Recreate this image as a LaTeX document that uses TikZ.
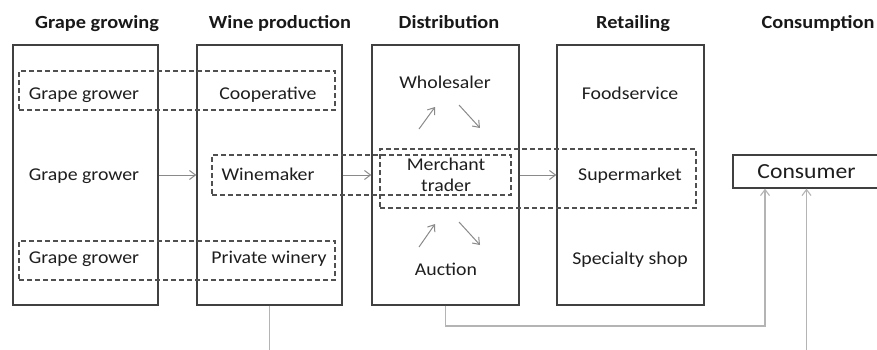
\documentclass[tikz,border=0pt]{standalone}
\usepackage{fontspec}
\setmainfont{Carlito}[FakeStretch=1.1]
\usetikzlibrary{arrows.meta}
\definecolor{boxc}{HTML}{404040}
\definecolor{dashc}{HTML}{505050}
\definecolor{txtc}{HTML}{1E1E1E}
\definecolor{arrc}{HTML}{8A8A8A}
\definecolor{feedc}{HTML}{B4B4B4}
\begin{document}
\begin{tikzpicture}[x=1pt,y=-1pt,
  colbox/.style={draw=boxc, line width=1.4pt, inner sep=0pt, minimum width=#1, minimum height=260pt},
  dbox/.style={draw=dashc, line width=1.2pt, dash pattern=on 5pt off 3pt, inner sep=0pt},
  lbl/.style={anchor=base, inner sep=0pt, text=txtc, font=\fontsize{18}{21}\selectfont},
  hdr/.style={anchor=base, inner sep=0pt, text=black!90, font=\bfseries\fontsize{18.5}{22}\selectfont},
  flow/.style={draw=arrc, line width=1pt, -{Straight Barb[length=6pt,width=9pt]}},
  feed/.style={draw=feedc, line width=1.1pt},
  feedtip/.style={feed, -{Straight Barb[length=6pt,width=9pt]}}]
\useasboundingbox (0,0) rectangle (877,349);
\fill[white] (0,0) rectangle (877,349);

% headers
\node[hdr] (h1) at (97,28) {Grape growing};
\node[hdr] (h2) at (280,28) {Wine production};
\node[hdr] (h3) at (449,28) {Distribution};
\node[hdr] (h4) at (633,28) {Retailing};
\node[hdr] (h5) at (818,28) {Consumption};

% column boxes
\node[colbox=145pt] (c1) at (85.5,175) {};
\node[colbox=145pt] (c2) at (269.5,175) {};
\node[colbox=147pt] (c3) at (445.5,175) {};
\node[colbox=147pt] (c4) at (630.5,175) {};

% dashed groupings
\node[dbox, minimum width=316pt, minimum height=39pt] (d1) at (177,90.5) {};
\node[dbox, minimum width=316pt, minimum height=39pt] (d3) at (177,260.5) {};
\node[dbox, minimum width=299pt, minimum height=40pt] (da) at (361.5,175) {};
\node[dbox, minimum width=316pt, minimum height=59pt] (db) at (538,178.5) {};

% labels
\node[lbl] (g1) at (84,99) {Grape grower};
\node[lbl] (coop) at (268,99) {Cooperative};
\node[lbl] (g2) at (84,180) {Grape grower};
\node[lbl] (wm) at (268,180) {Winemaker};
\node[lbl] (g3) at (84,263) {Grape grower};
\node[lbl] (pw) at (269,263) {Private winery};
\node[lbl] (ws) at (445,88) {Wholesaler};
\node[inner sep=0pt, text=txtc, align=center, font=\fontsize{18}{21}\selectfont] (mt) at (446,175) {Merchant\\trader};
\node[lbl] (au) at (446,275) {Auction};
\node[lbl] (fs) at (630,99) {Foodservice};
\node[lbl] (sm) at (630,180) {Supermarket};
\node[lbl] (ss) at (630,264) {Specialty shop};

% consumer
\node[draw=boxc, line width=1.3pt, inner sep=0pt, minimum width=147pt, minimum height=33pt,
      text=txtc, font=\fontsize{21.5}{24}\selectfont] (cons) at (806.5,171.5) {Consumer};

% main flow arrows
\coordinate (r2) at (0,175);
\draw[flow] (c1.east |- r2) -- (c2.west |- r2);
\draw[flow] (c2.east |- r2) -- (c3.west |- r2);
\draw[flow] (c3.east |- r2) -- (c4.west |- r2);

% distribution internal arrows
\coordinate (u1a) at (419,129); \coordinate (u1b) at (435,107);
\coordinate (d1a) at (459,105); \coordinate (d1b) at (480,128);
\coordinate (u2a) at (419,247); \coordinate (u2b) at (435,224);
\coordinate (d2a) at (459,222); \coordinate (d2b) at (480,245);
\draw[flow] (u1a) -- (u1b);
\draw[flow] (d1a) -- (d1b);
\draw[flow] (u2a) -- (u2b);
\draw[flow] (d2a) -- (d2b);

% lines to consumer
\coordinate (b1) at (269.5,352);
\draw[feed] (c2.south) -- (b1);
\coordinate (k) at (765,326);
\draw[feedtip] (c3.south) |- (k) -- (cons.south -| k);
\coordinate (b2) at (806.5,352);
\draw[feedtip] (b2) -- (cons.south);
\end{tikzpicture}
\end{document}
